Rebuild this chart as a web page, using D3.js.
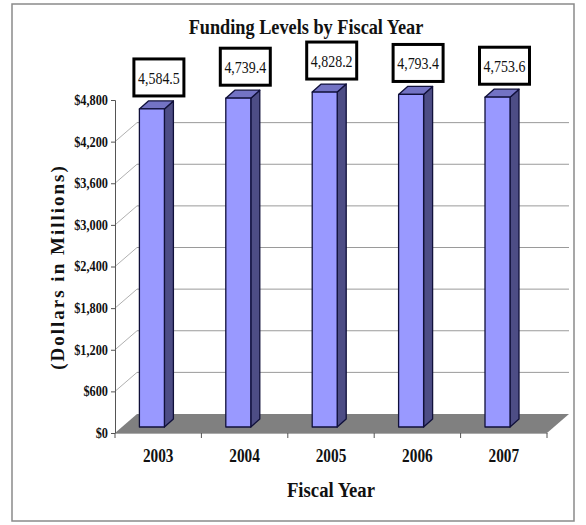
<!DOCTYPE html>
<html>
<head>
<meta charset="utf-8">
<script src="https://cdn.jsdelivr.net/npm/d3@7"></script>
<style>
  body { margin: 0; background: #fff; }
  text { font-family: "Liberation Serif", "Times New Roman", serif; }
</style>
</head>
<body>
<div id="chart"></div>
<script>
const years = ["2003", "2004", "2005", "2006", "2007"];
const funding = [4584.5, 4739.4, 4828.2, 4793.4, 4753.6];
const yTicks = [0, 600, 1200, 1800, 2400, 3000, 3600, 4200, 4800];
const gridTicks = [600, 1200, 1800, 2400, 3000, 3600, 4200];

const W = 586, H = 525;
const serif = "'Liberation Serif', 'Times New Roman', serif";
const svg = d3.select("#chart").append("svg").attr("width", W).attr("height", H);

// the original text looks narrow and tall, squeeze it horizontally
function condense(sel, k, cx) {
  sel.attr("transform", `translate(${cx},0) scale(${k},1) translate(${-cx},0)`);
}

// outer frame
svg.append("rect")
  .attr("x", 12).attr("y", 4).attr("width", 562).attr("height", 517)
  .attr("fill", "#fff").attr("stroke", "#8a8a8a").attr("stroke-width", 1.5);

const x = d3.scaleBand().domain(years).range([115, 547]).padding(0);
const y = d3.scaleLinear().domain([0, 4800]).range([433, 100]);

// depth of the 3d box
const dx = 22, dy = -19;

// floor
const x0 = x.range()[0], x1 = x.range()[1], y0 = y(0);
svg.append("polygon")
  .attr("points", [[x0, y0], [x1, y0], [x1 + dx, y0 + dy], [x0 + dx, y0 + dy]].join(" "))
  .attr("fill", "#808080");

// back wall gridlines + side wall diagonals
gridTicks.forEach((t) => {
  svg.append("line")
    .attr("x1", x0 + dx).attr("x2", x1 + dx)
    .attr("y1", y(t) + dy).attr("y2", y(t) + dy)
    .attr("stroke", "#9a9a9a").attr("stroke-width", 1);
  svg.append("line")
    .attr("x1", x0).attr("x2", x0 + dx)
    .attr("y1", y(t)).attr("y2", y(t) + dy)
    .attr("stroke", "#b0b0b0").attr("stroke-width", 1);
});

// y axis
const yAxis = d3.axisLeft(y).tickValues(yTicks).tickSize(4).tickPadding(3)
  .tickFormat((d) => "$" + d3.format(",")(d));
const gy = svg.append("g").attr("transform", `translate(${x0},0)`).call(yAxis);
gy.select(".domain").attr("stroke", "#555");
gy.selectAll(".tick line").attr("stroke", "#555");
gy.selectAll(".tick text")
  .attr("fill", "#111")
  .style("font-family", serif)
  .style("font-size", "14px")
  .style("font-weight", "bold")
  .call(condense, 0.88, -7);

// x axis
const xAxis = d3.axisBottom(x).tickSize(0).tickPadding(16);
const gx = svg.append("g").attr("transform", `translate(0,${y0})`).call(xAxis);
gx.select(".domain").attr("stroke", "#aaa");
gx.selectAll(".tick text")
  .attr("fill", "#111")
  .style("font-family", serif)
  .style("font-size", "18px")
  .style("font-weight", "bold")
  .call(condense, 0.85, 0);
// category separator ticks
svg.append("g").selectAll("line")
  .data(years.map((d) => x(d)).concat([x1]))
  .enter().append("line")
  .attr("x1", (d) => d).attr("x2", (d) => d)
  .attr("y1", y0).attr("y2", y0 + 5)
  .attr("stroke", "#555");

// bars
const barOff = 24.4, barW = 25, sx = 9, sy = -8, lift = 6;
const bars = svg.append("g");
years.forEach((yr, i) => {
  const v = funding[i];
  const left = x(yr) + barOff;
  const top = y(v) - lift;
  const bottom = y(0) - lift;
  const g = bars.append("g").attr("stroke", "#10103a").attr("stroke-width", 1.3)
    .attr("stroke-linejoin", "round");
  // side
  g.append("polygon")
    .attr("points", [[left + barW, top], [left + barW + sx, top + sy], [left + barW + sx, bottom + sy], [left + barW, bottom]].join(" "))
    .attr("fill", "#4d4d85");
  // top
  g.append("polygon")
    .attr("points", [[left, top], [left + sx, top + sy], [left + barW + sx, top + sy], [left + barW, top]].join(" "))
    .attr("fill", "#7373c4");
  // front
  g.append("rect")
    .attr("x", left).attr("y", top).attr("width", barW).attr("height", bottom - top)
    .attr("fill", "#9999ff");

  // value label box
  const cx = left + barW / 2 + 7;
  const bb = top + sy - 4;
  const lg = svg.append("g");
  lg.append("rect")
    .attr("x", cx - 25).attr("y", bb - 38).attr("width", 50).attr("height", 37)
    .attr("fill", "#fff").attr("stroke", "#000").attr("stroke-width", 3);
  lg.append("text")
    .attr("x", cx).attr("y", bb - 13)
    .attr("text-anchor", "middle")
    .style("font-family", serif)
    .style("font-size", "17px")
    .attr("fill", "#111")
    .text(d3.format(",.1f")(v))
    .call(condense, 0.82, cx);
});

// title
svg.append("text")
  .attr("x", 306).attr("y", 34)
  .attr("text-anchor", "middle")
  .style("font-family", serif)
  .style("font-size", "21px").style("font-weight", "bold")
  .attr("fill", "#111")
  .text("Funding Levels by Fiscal Year")
  .call(condense, 0.87, 306);

// axis titles
svg.append("text")
  .attr("transform", "translate(64,267) rotate(-90)")
  .attr("text-anchor", "middle")
  .style("font-family", serif)
  .style("font-size", "19px").style("font-weight", "bold")
  .style("letter-spacing", "2px")
  .attr("fill", "#111")
  .text("(Dollars in Millions)");

svg.append("text")
  .attr("x", 331).attr("y", 497)
  .attr("text-anchor", "middle")
  .style("font-family", serif)
  .style("font-size", "22px").style("font-weight", "bold")
  .attr("fill", "#111")
  .text("Fiscal Year")
  .call(condense, 0.85, 331);
</script>
</body>
</html>
